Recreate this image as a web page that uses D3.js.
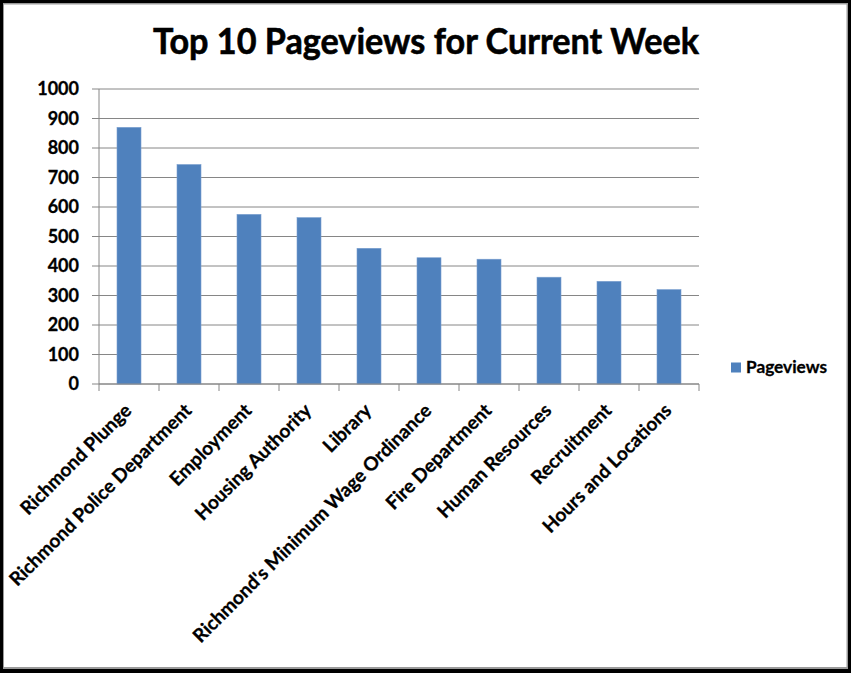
<!DOCTYPE html>
<html>
<head>
<meta charset="utf-8">
<script src="https://cdn.jsdelivr.net/npm/d3@7"></script>
<style>
  html, body { margin: 0; padding: 0; background: #fff; }
  svg { display: block; }
  text { font-family: Lato, "Open Sans", sans-serif; font-weight: bold; fill: #000; stroke: #000; stroke-width: 0.3px; }
</style>
</head>
<body>
<svg id="chart" width="851" height="673"></svg>
<script>
const title = "Top 10 Pageviews for Current Week";
const categories = [
  "Richmond Plunge",
  "Richmond Police Department",
  "Employment",
  "Housing Authority",
  "Library",
  "Richmond's Minimum Wage Ordinance",
  "Fire Department",
  "Human Resources",
  "Recruitment",
  "Hours and Locations"
];
const seriesName = "Pageviews";
const pageviews = [870, 744, 575, 564, 460, 428, 423, 362, 348, 320];
const yTicks = [0, 100, 200, 300, 400, 500, 600, 700, 800, 900, 1000];

const W = 851, H = 673;
const plot = { left: 99, right: 699, top: 89, bottom: 384 };
const barColor = "#4F81BD";
const gridColor = "#868686";

const svg = d3.select("#chart");

// frame
svg.append("rect").attr("x", 0).attr("y", 0).attr("width", W).attr("height", H).attr("fill", "#000");
svg.append("rect").attr("x", 3).attr("y", 3).attr("width", 845).attr("height", 666).attr("fill", "#9a9a9a");
svg.append("rect").attr("x", 4).attr("y", 4.5).attr("width", 842.5).attr("height", 662.5).attr("fill", "#fff");

// title
svg.append("text")
  .attr("x", (153 + 699) / 2).attr("y", 54)
  .attr("text-anchor", "middle")
  .attr("font-size", 36)
  .style("stroke-width", "0.6px")
  .attr("textLength", 546).attr("lengthAdjust", "spacingAndGlyphs")
  .text(title);

const y = d3.scaleLinear().domain([0, 1000]).range([plot.bottom, plot.top]);
const x = d3.scaleBand().domain(categories).range([plot.left, plot.right])
  .paddingInner(0.6).paddingOuter(0.3);
const xEdge = d3.scaleLinear().domain([0, categories.length]).range([plot.left, plot.right]);

// gridlines + y tick marks
const g = svg.append("g");
g.selectAll("line.grid").data(yTicks).join("line")
  .attr("class", "grid")
  .attr("x1", plot.left - 7).attr("x2", plot.right)
  .attr("y1", d => y(d)).attr("y2", d => y(d))
  .attr("stroke", gridColor).attr("stroke-width", 1);

// y axis line
g.append("line")
  .attr("x1", plot.left).attr("x2", plot.left)
  .attr("y1", y(1000)).attr("y2", y(0))
  .attr("stroke", gridColor);

// x tick marks
g.selectAll("line.xt").data(d3.range(categories.length + 1)).join("line")
  .attr("class", "xt")
  .attr("x1", d => xEdge(d)).attr("x2", d => xEdge(d))
  .attr("y1", y(0)).attr("y2", y(0) + 7)
  .attr("stroke", gridColor);

// y labels
g.selectAll("text.yl").data(yTicks).join("text")
  .attr("class", "yl")
  .attr("x", 79).attr("y", d => y(d))
  .attr("dy", "0.36em")
  .attr("text-anchor", "end")
  .attr("font-size", 18)
  .text(d => d);

// bars
svg.append("g").selectAll("rect").data(pageviews).join("rect")
  .attr("x", (d, i) => x(categories[i]))
  .attr("width", x.bandwidth())
  .attr("y", d => y(d))
  .attr("height", d => y(0) - y(d))
  .attr("fill", barColor)
  .attr("stroke", "#7A9FCF").attr("stroke-width", 0.6);

// x axis line on top of bars
svg.append("line")
  .attr("x1", plot.left).attr("x2", plot.right)
  .attr("y1", y(0)).attr("y2", y(0))
  .attr("stroke", gridColor);

// x labels
svg.append("g").selectAll("text").data(categories).join("text")
  .attr("transform", d => `translate(${x(d) + x.bandwidth() / 2 - 1},${y(0) + 23}) rotate(-45)`)
  .attr("text-anchor", "end")
  .attr("dy", "0.35em")
  .attr("font-size", 19)
  .text(d => d);

// legend
const lg = svg.append("g");
lg.append("rect").attr("x", 731).attr("y", 362.5).attr("width", 10).attr("height", 10).attr("fill", barColor);
lg.append("text").attr("x", 746).attr("y", 372.5)
  .attr("font-size", 17)
  .attr("textLength", 81).attr("lengthAdjust", "spacingAndGlyphs")
  .text(seriesName);
</script>
</body>
</html>
